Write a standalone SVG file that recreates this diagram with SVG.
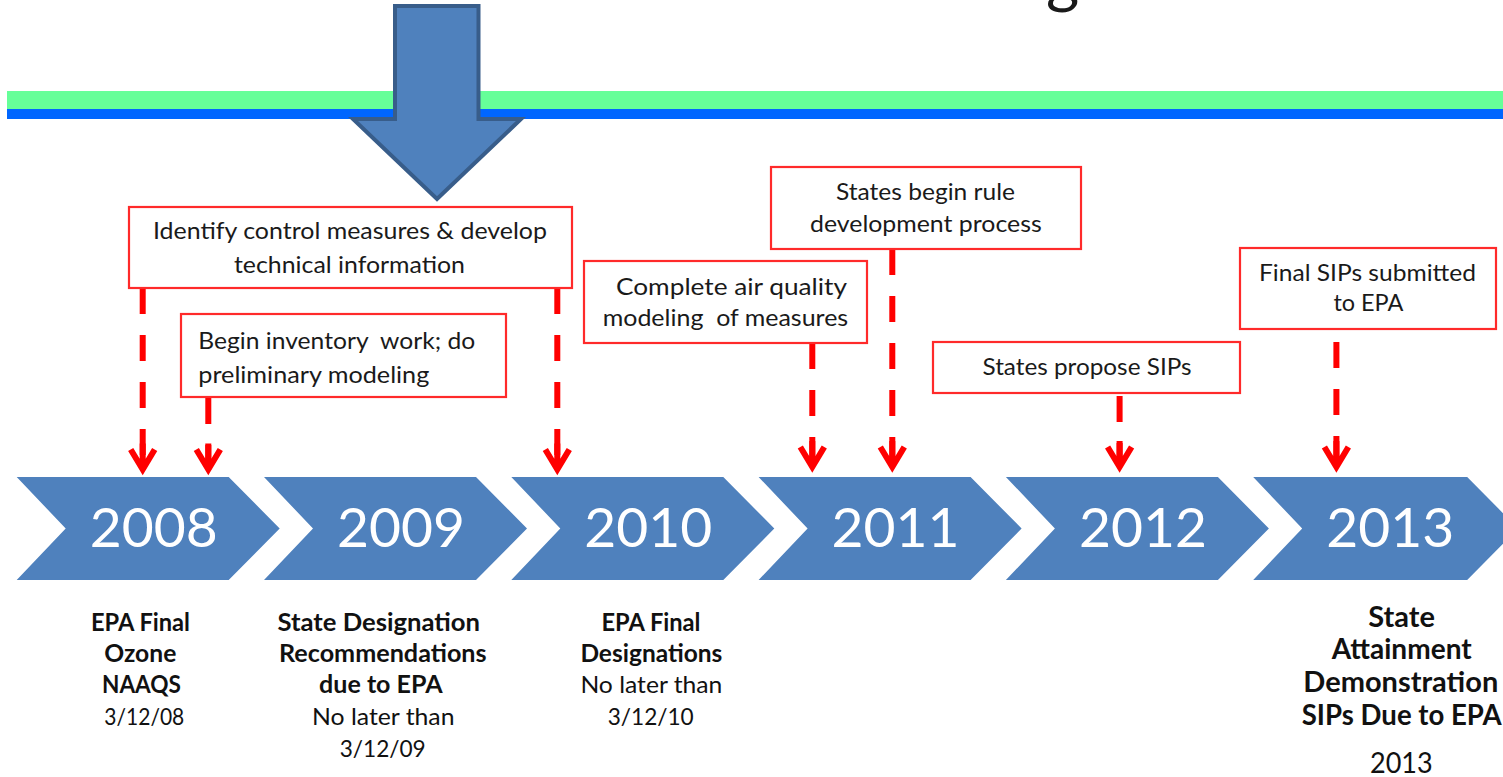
<svg xmlns="http://www.w3.org/2000/svg" width="1503" height="777" viewBox="0 0 1503 777">
<defs>
<style>
.band-g{fill:#66FF99}
.band-b{fill:#0066FF}
.chev{fill:#4F81BD}
.year{font-family:Lato,"Open Sans",sans-serif;font-size:54px;fill:#FFFFFF}
.box rect{fill:#FFFFFF;stroke:#FF2A2A;stroke-width:2.2}
.bt{font-family:Lato,"Open Sans",sans-serif;font-size:24px;fill:#1A1A1A;white-space:pre}
.lb{font-family:Lato,"Open Sans",sans-serif;font-size:24px;font-weight:bold;fill:#111111}
.lr{font-family:Lato,"Open Sans",sans-serif;font-size:24px;fill:#111111}
.lb4{font-family:Lato,"Open Sans",sans-serif;font-size:28px;font-weight:bold;fill:#111111}
.lr4{font-family:Lato,"Open Sans",sans-serif;font-size:28px;fill:#111111}
.conn{fill:none;stroke:#FF0000;stroke-width:6;stroke-dasharray:26 21;marker-end:url(#ah)}
</style>
<marker id="ah" markerUnits="userSpaceOnUse" viewBox="-30 -20 40 40" refX="0" refY="0" markerWidth="40" markerHeight="40" orient="auto" overflow="visible">
<path d="M-26,0 L0,0 M-20,-12 L0,0 L-20,12" fill="none" stroke="#FF0000" stroke-width="6" stroke-linejoin="miter"/>
</marker>
</defs>
<rect x="0" y="0" width="1503" height="777" fill="#FFFFFF"/>

<g id="title-fragment">
<text x="1046" y="1" font-family="Lato,'Open Sans',sans-serif" font-size="64" fill="#1A1A1A">g</text>
</g>

<g id="bands">
<rect class="band-g" x="7" y="91" width="1496" height="18"/>
<rect class="band-b" x="7" y="109" width="1496" height="10"/>
</g>

<g id="big-arrow">
<polygon points="395,6 478.5,6 478.5,119 521,119 437,199 353,119 395,119" fill="#4F81BD" stroke="#385D8A" stroke-width="4" stroke-linejoin="miter"/>
</g>

<g id="chevrons">
<g id="y2008">
<path class="chev" d="M16.7,477 L228.7,477 L279.7,528.5 L228.7,580 L16.7,580 L65.7,528.5 Z"/>
<text class="year" x="153.7" y="547" text-anchor="middle" textLength="128" lengthAdjust="spacingAndGlyphs">2008</text>
</g>
<g id="y2009">
<path class="chev" d="M264,477 L476,477 L527,528.5 L476,580 L264,580 L313,528.5 Z"/>
<text class="year" x="401" y="547" text-anchor="middle" textLength="128" lengthAdjust="spacingAndGlyphs">2009</text>
</g>
<g id="y2010">
<path class="chev" d="M511.3,477 L723.3,477 L774.3,528.5 L723.3,580 L511.3,580 L560.3,528.5 Z"/>
<text class="year" x="648.3" y="547" text-anchor="middle" textLength="128" lengthAdjust="spacingAndGlyphs">2010</text>
</g>
<g id="y2011">
<path class="chev" d="M758.6,477 L970.6,477 L1021.6,528.5 L970.6,580 L758.6,580 L807.6,528.5 Z"/>
<text class="year" x="895.6" y="547" text-anchor="middle" textLength="128" lengthAdjust="spacingAndGlyphs">2011</text>
</g>
<g id="y2012">
<path class="chev" d="M1005.9,477 L1217.9,477 L1268.9,528.5 L1217.9,580 L1005.9,580 L1054.9,528.5 Z"/>
<text class="year" x="1142.9" y="547" text-anchor="middle" textLength="128" lengthAdjust="spacingAndGlyphs">2012</text>
</g>
<g id="y2013">
<path class="chev" d="M1253.2,477 L1467.2,477 L1518.2,528.5 L1467.2,580 L1253.2,580 L1302.2,528.5 Z"/>
<text class="year" x="1390.2" y="547" text-anchor="middle" textLength="128" lengthAdjust="spacingAndGlyphs">2013</text>
</g>
</g>

<g id="connectors">
<path class="conn" d="M142.7,288 L142.7,469.5"/>
<path class="conn" d="M208.3,398 L208.3,469.5"/>
<path class="conn" d="M557.3,288 L557.3,469.5"/>
<path class="conn" d="M812.3,343 L812.3,467"/>
<path class="conn" d="M892.3,249 L892.3,467"/>
<path class="conn" d="M1119.6,396 L1119.6,467"/>
<path class="conn" d="M1336.4,342 L1336.4,467"/>
</g>

<g id="box-identify" class="box">
<rect x="129" y="207" width="443" height="81"/>
<text class="bt" x="153" y="239" textLength="394" lengthAdjust="spacingAndGlyphs">Identify control measures &amp; develop</text>
<text class="bt" x="234" y="272.5" textLength="231" lengthAdjust="spacingAndGlyphs">technical information</text>
</g>
<g id="box-inventory" class="box">
<rect x="181" y="314" width="325" height="83"/>
<text class="bt" x="198.3" y="349" textLength="277" lengthAdjust="spacingAndGlyphs" xml:space="preserve">Begin inventory  work; do</text>
<text class="bt" x="198.3" y="382.5" textLength="231" lengthAdjust="spacingAndGlyphs">preliminary modeling</text>
</g>
<g id="box-modeling" class="box">
<rect x="584" y="261" width="283" height="82"/>
<text class="bt" x="616" y="295" textLength="231" lengthAdjust="spacingAndGlyphs">Complete air quality</text>
<text class="bt" x="602.7" y="325.5" textLength="245.5" lengthAdjust="spacingAndGlyphs" xml:space="preserve">modeling  of measures</text>
</g>
<g id="box-rule" class="box">
<rect x="771" y="167" width="310" height="82"/>
<text class="bt" x="836" y="200" textLength="179" lengthAdjust="spacingAndGlyphs">States begin rule</text>
<text class="bt" x="810" y="231.5" textLength="231.7" lengthAdjust="spacingAndGlyphs">development process</text>
</g>
<g id="box-propose" class="box">
<rect x="933" y="342" width="307" height="51"/>
<text class="bt" x="982.5" y="375" textLength="209" lengthAdjust="spacingAndGlyphs">States propose SIPs</text>
</g>
<g id="box-final" class="box">
<rect x="1240" y="248" width="256" height="81"/>
<text class="bt" x="1259" y="280.5" textLength="217" lengthAdjust="spacingAndGlyphs">Final SIPs submitted</text>
<text class="bt" x="1333.4" y="311" textLength="70" lengthAdjust="spacingAndGlyphs">to EPA</text>
</g>

<g id="label-2008">
<text class="lb" x="91" y="631" textLength="99" lengthAdjust="spacingAndGlyphs">EPA Final</text>
<text class="lb" x="104.3" y="662" textLength="72" lengthAdjust="spacingAndGlyphs">Ozone</text>
<text class="lb" x="102" y="693" textLength="79" lengthAdjust="spacingAndGlyphs">NAAQS</text>
<text class="lr" x="104.3" y="725" textLength="80" lengthAdjust="spacingAndGlyphs">3/12/08</text>
</g>
<g id="label-2009">
<text class="lb" x="277.5" y="631" textLength="202.5" lengthAdjust="spacingAndGlyphs">State Designation</text>
<text class="lb" x="279" y="662" textLength="207.6" lengthAdjust="spacingAndGlyphs">Recommendations</text>
<text class="lb" x="319.1" y="693" textLength="123.5" lengthAdjust="spacingAndGlyphs">due to EPA</text>
<text class="lr" x="312" y="725" textLength="142.5" lengthAdjust="spacingAndGlyphs">No later than</text>
<text class="lr" x="339.7" y="757" textLength="86" lengthAdjust="spacingAndGlyphs">3/12/09</text>
</g>
<g id="label-2010">
<text class="lb" x="601.5" y="631" textLength="99" lengthAdjust="spacingAndGlyphs">EPA Final</text>
<text class="lb" x="580.4" y="662" textLength="142" lengthAdjust="spacingAndGlyphs">Designations</text>
<text class="lr" x="580.4" y="693" textLength="142" lengthAdjust="spacingAndGlyphs">No later than</text>
<text class="lr" x="607.7" y="725" textLength="86" lengthAdjust="spacingAndGlyphs">3/12/10</text>
</g>
<g id="label-2013">
<text class="lb4" x="1368.3" y="626.5" textLength="66.7" lengthAdjust="spacingAndGlyphs">State</text>
<text class="lb4" x="1331.7" y="658.5" textLength="140" lengthAdjust="spacingAndGlyphs">Attainment</text>
<text class="lb4" x="1303.3" y="691.5" textLength="195" lengthAdjust="spacingAndGlyphs">Demonstration</text>
<text class="lb4" x="1301.7" y="725" textLength="200" lengthAdjust="spacingAndGlyphs">SIPs Due to EPA</text>
<text class="lr4" x="1370" y="772.5" textLength="62.7" lengthAdjust="spacingAndGlyphs">2013</text>
</g>
</svg>
